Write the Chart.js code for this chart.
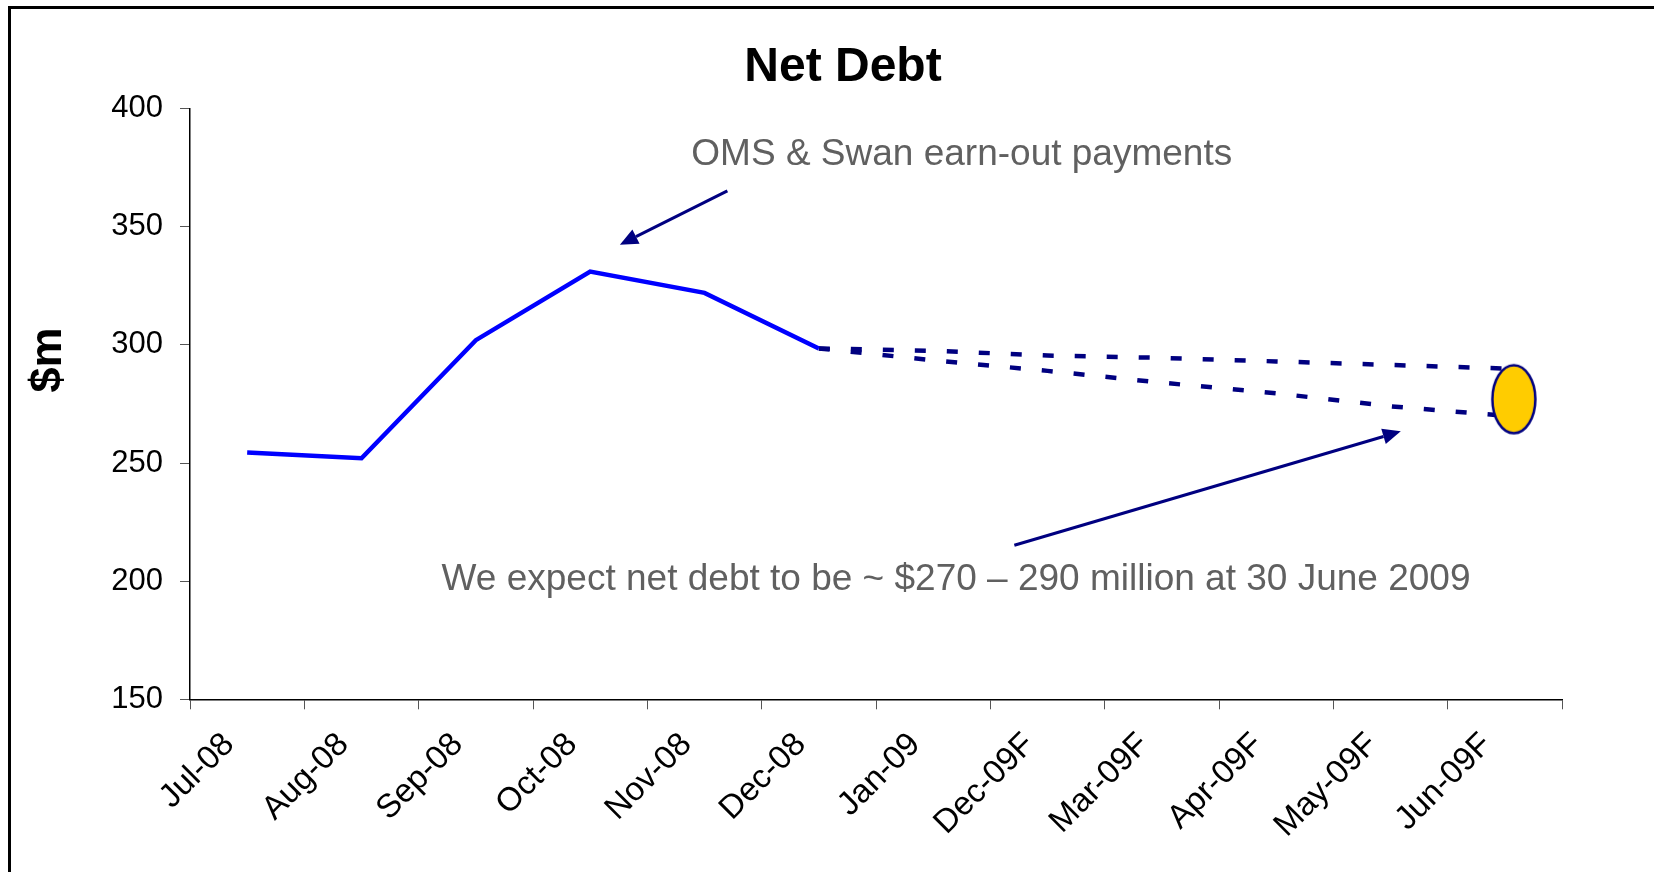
<!DOCTYPE html>
<html>
<head>
<meta charset="utf-8">
<title>Net Debt</title>
<script src="https://cdn.jsdelivr.net/npm/chart.js@4.4.0/dist/chart.umd.min.js"></script>
<style>
  html, body { margin: 0; padding: 0; background: #fff; overflow: hidden; }
  #frame { position: absolute; left: 8px; top: 6px; width: 2000px; height: 2000px; border: 3px solid #000; }
  #wrap { position: absolute; left: 0; top: 0; width: 1654px; height: 872px; }
</style>
</head>
<body>
<div id="frame"></div>
<div id="wrap"><canvas id="debtChart" width="1654" height="872"></canvas></div>
<script>
const MONTHS = ['Jul-08', 'Aug-08', 'Sep-08', 'Oct-08', 'Nov-08', 'Dec-08', 'Jan-09', 'Dec-09F', 'Mar-09F', 'Apr-09F', 'May-09F', 'Jun-09F'];
const ACTUAL = [254.5, 252, 302, 331, 322, 298.5, null, null, null, null, null, null];
const FORECAST_HIGH = [null, null, null, null, null, 298.5, 297.5, 295.5, 294.5, 293, 291.5, 290];
const FORECAST_LOW = [null, null, null, null, null, 298.5, 293.5, 289, 284, 279.5, 274, 270];
const TARGET = [null, null, null, null, null, null, null, null, null, null, null, 277];
const Y_TICKS = [150, 200, 250, 300, 350, 400];

// annotations, placed in axis units: [category index, $m]
const NOTE_EARNOUT = { text: 'OMS & Swan earn-out payments', at: [6.25, 380.4], from: [4.2, 365.2], to: [3.26, 342.4] };
const NOTE_OUTLOOK = { text: 'We expect net debt to be ~ $270 \u2013 290 million at 30 June 2009', at: [6.2, 200.5], from: [6.71, 215.2], to: [10.09, 263.4] };

const FONT = "'Liberation Sans', Arial, sans-serif";
const NAVY = '#000080';

// yellow ellipse used as the point marker at the June 2009 target,
// sitting a little right of the category centre
function ellipseMarker() {
  const c = document.createElement('canvas');
  c.width = 66; c.height = 75;
  const g = c.getContext('2d');
  g.beginPath();
  g.ellipse(42, 37.5, 21.5, 34, 0, 0, Math.PI * 2);
  g.fillStyle = '#FFCC00';
  g.fill();
  g.lineWidth = 2.5;
  g.strokeStyle = NAVY;
  g.stroke();
  return c;
}

function arrow(ctx, x1, y1, x2, y2) {
  const ang = Math.atan2(y2 - y1, x2 - x1);
  const len = 18, half = 8;
  const bx = x2 - Math.cos(ang) * len, by = y2 - Math.sin(ang) * len;
  ctx.beginPath();
  ctx.moveTo(x1, y1);
  ctx.lineTo(bx, by);
  ctx.stroke();
  ctx.beginPath();
  ctx.moveTo(x2, y2);
  ctx.lineTo(bx + Math.sin(ang) * half, by - Math.cos(ang) * half);
  ctx.lineTo(bx - Math.sin(ang) * half, by + Math.cos(ang) * half);
  ctx.closePath();
  ctx.fill();
}

const notesPlugin = {
  id: 'notes',
  afterDraw(chart) {
    const ctx = chart.ctx, xs = chart.scales.x, ys = chart.scales.y;
    const px = p => [xs.getPixelForValue(p[0]), ys.getPixelForValue(p[1])];
    ctx.save();

    // title
    ctx.fillStyle = '#000';
    ctx.font = 'bold 48px ' + FONT;
    ctx.textAlign = 'center';
    ctx.textBaseline = 'middle';
    ctx.fillText('Net Debt', 843, 68);

    // y axis title
    ctx.save();
    ctx.translate(49, 360);
    ctx.rotate(-Math.PI / 2);
    ctx.font = 'bold 45px ' + FONT;
    ctx.fillText('$m', 0, 0);
    ctx.restore();

    ctx.strokeStyle = NAVY;
    ctx.fillStyle = NAVY;
    ctx.lineWidth = 3;
    [NOTE_EARNOUT, NOTE_OUTLOOK].forEach(n => {
      const a = px(n.from), b = px(n.to);
      arrow(ctx, a[0], a[1], b[0], b[1]);
    });

    ctx.fillStyle = '#606060';
    ctx.font = '37px ' + FONT;
    [NOTE_EARNOUT, NOTE_OUTLOOK].forEach(n => {
      const p = px(n.at);
      ctx.fillText(n.text, p[0], p[1]);
    });
    ctx.restore();
  }
};

new Chart(document.getElementById('debtChart').getContext('2d'), {
  type: 'line',
  data: {
    labels: MONTHS,
    datasets: [
      { label: 'Target', data: TARGET, showLine: false, pointStyle: ellipseMarker(), pointRadius: 20, order: 0 },
      { label: 'Net debt', data: ACTUAL, borderColor: '#0000FF', borderWidth: 4.5, pointRadius: 0, tension: 0, order: 1 },
      { label: 'Forecast high', data: FORECAST_HIGH, borderColor: NAVY, borderWidth: 4.5, borderDash: [11, 21], borderCapStyle: 'butt', pointRadius: 0, order: 1 },
      { label: 'Forecast low', data: FORECAST_LOW, borderColor: NAVY, borderWidth: 4.5, borderDash: [11, 21], borderCapStyle: 'butt', pointRadius: 0, order: 1 }
    ]
  },
  options: {
    responsive: false,
    animation: false,
    layout: { padding: { top: 108.6, right: 92, left: 0, bottom: 0 } },
    plugins: { legend: { display: false }, tooltip: { enabled: false }, title: { display: false } },
    scales: {
      x: {
        offset: true,
        grid: { drawOnChartArea: false, offset: true, tickLength: 10, tickColor: '#555', lineWidth: 1 },
        border: { color: '#000', width: 1.5 },
        ticks: { autoSkip: false, maxRotation: 45, minRotation: 45, padding: 16, labelOffset: -18, color: '#000', font: { family: FONT, size: 33 } },
        afterFit: s => { s.height = 172.7; }
      },
      y: {
        min: 150,
        max: 400,
        afterBuildTicks: s => { s.ticks = Y_TICKS.map(v => ({ value: v })); },
        grid: { drawOnChartArea: false, tickLength: 10, tickColor: '#555', lineWidth: 1 },
        border: { color: '#000', width: 1.5 },
        ticks: { padding: 17, color: '#000', font: { family: FONT, size: 31 } },
        afterFit: s => { s.width = 190; }
      }
    }
  },
  plugins: [notesPlugin]
});
</script>
</body>
</html>
